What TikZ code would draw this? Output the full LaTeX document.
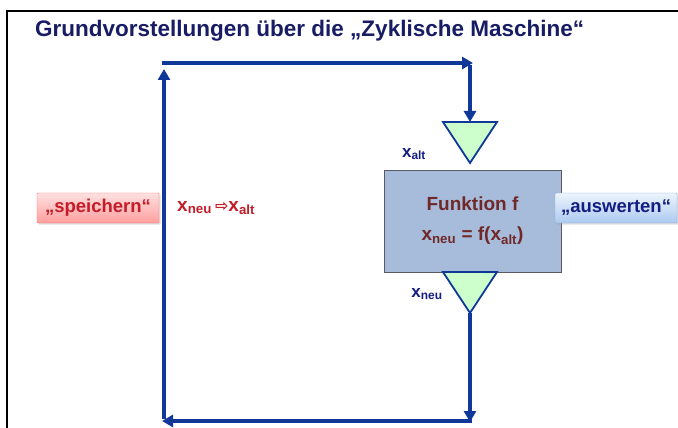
\documentclass[tikz,border=0pt]{standalone}
\usepackage{fontspec}
\setmainfont{Liberation Sans}
\newfontfamily\symfont{DejaVu Sans}
\usetikzlibrary{positioning,arrows.meta,shadows}
\definecolor{loopblue}{RGB}{16,56,152}
\definecolor{titlenavy}{RGB}{24,28,100}
\definecolor{fboxblue}{RGB}{166,188,218}
\definecolor{fboxline}{RGB}{90,90,100}
\definecolor{trigreen}{RGB}{204,255,204}
\definecolor{fbrown}{RGB}{112,40,40}
\definecolor{savered}{RGB}{196,28,40}
\definecolor{labnavy}{RGB}{20,30,130}
\definecolor{evaltop}{RGB}{236,244,253}
\definecolor{evalbot}{RGB}{172,202,240}
\definecolor{evalline}{RGB}{140,170,215}

\begin{document}
\begin{tikzpicture}[x=1pt,y=-1pt,font=\bfseries,
  flow/.style={line width=3.6pt,loopblue,-{Triangle[length=11pt,width=12pt]}},
  tri/.style={draw=loopblue,line width=1.8pt,fill=trigreen,line join=miter},
  varlab/.style={text=labnavy,font=\fontsize{17}{18}\bfseries,inner sep=0pt},
  tagbox/.style={rounded corners=1pt,minimum width=122,minimum height=30,inner sep=0pt,font=\fontsize{18.5}{20}\bfseries}]
  \useasboundingbox (0,0) rectangle (678,428);
  % slide frame
  \draw[line width=2pt] (7,428) -- (7,11) -- (678,11);
  % title
  \node[anchor=base west,inner sep=0pt,text=titlenavy,font=\fontsize{22.5}{24}\bfseries] (title) at (35,37)
    {Grundvorstellungen über die „Zyklische Maschine“};
  % function box and triangles
  \node[draw=fboxline,line width=0.8pt,fill=fboxblue,minimum width=177,minimum height=102,align=center,
    text=fbrown,font=\fontsize{19}{30}\bfseries] (fbox) at (472.5,221)
    {Funktion f\\ x\textsubscript{neu} = f(x\textsubscript{alt})};
  \coordinate (tinTop) at (470,122);
  \coordinate (toutTip) at (470,313);
  \draw[tri] (443,122) -- (497,122) -- (470,163) -- cycle;
  \draw[tri] (443,272) -- (497,272) -- (toutTip) -- cycle;
  \node[varlab] (xalt) at (414,154) {x\textsubscript{alt}};
  \node[varlab] (xneu) at (427,294) {x\textsubscript{neu}};
  % loop corners
  \coordinate (cTL) at (164,63);
  \coordinate (cTR) at (470,63);
  \coordinate (cBR) at (470,421);
  \coordinate (cBL) at (164,421);
  \draw[flow] ([yshift=1.8pt]cBL) -- ([yshift=-6pt]cTL);
  \draw[flow] ([xshift=-1.8pt]cTL) -- ([xshift=3pt]cTR);
  \draw[flow] ([yshift=-1.8pt]cTR) -- (tinTop);
  \draw[flow] (toutTip) -- ([yshift=-1pt]cBR);
  \draw[flow] ([xshift=1.8pt]cBR) -- ([xshift=-2pt]cBL);
  % side labels
  \node[tagbox,draw=red!55,top color=red!12,bottom color=red!38,text=savered,drop shadow={opacity=0.25,shadow xshift=1.5pt,shadow yshift=-1.5pt}] (save) at (98,208) {„speichern“};
  \node[text=savered,font=\fontsize{19}{20}\bfseries,anchor=west,inner sep=0pt] (swap) at (177,208)
    {x\textsubscript{neu}\,{\symfont\fontsize{16}{16}\selectfont ⇨}x\textsubscript{alt}};
  \node[tagbox,draw=evalline,top color=evaltop,bottom color=evalbot,text=labnavy,drop shadow={opacity=0.25,shadow xshift=1.5pt,shadow yshift=-1.5pt}] (eval) at (616,208) {„auswerten“};
\end{tikzpicture}
\end{document}
